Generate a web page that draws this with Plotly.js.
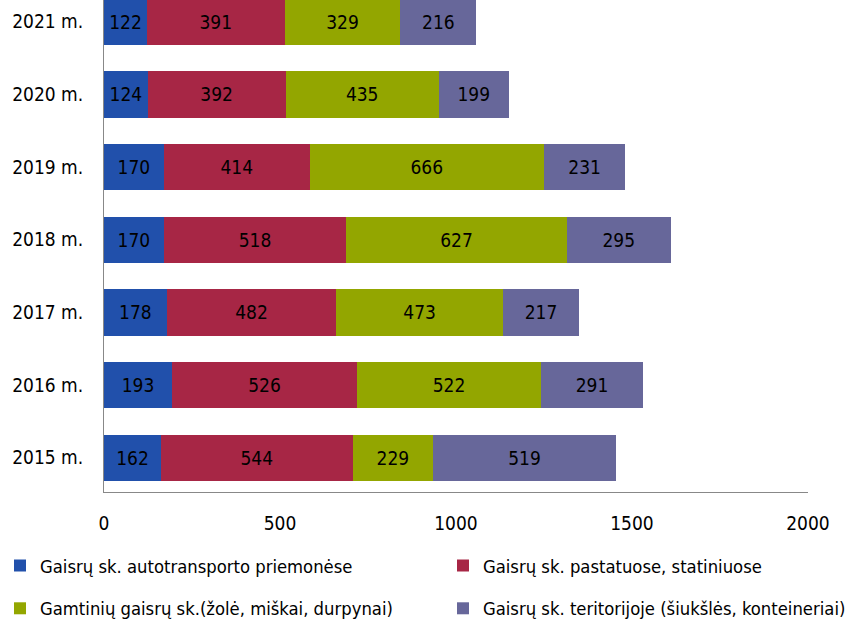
<!DOCTYPE html>
<html>
<head>
<meta charset="utf-8">
<script src="https://cdn.plot.ly/plotly-3.0.1.min.js"></script>
<style>
  html, body { margin: 0; padding: 0; background: #fff; }
  #chart { width: 854px; height: 623px; }
</style>
</head>
<body>
<div id="chart"></div>
<script>
// years, bottom to top
const years = ["2015 m.", "2016 m.", "2017 m.", "2018 m.", "2019 m.", "2020 m.", "2021 m."];

const vehicleFires = [162, 193, 178, 170, 170, 124, 122];
const buildingFires = [544, 526, 482, 518, 414, 392, 391];
const natureFires = [229, 522, 473, 627, 666, 435, 329];
const territoryFires = [519, 291, 217, 295, 231, 199, 216];

const seriesNames = [
  "Gaisrų sk. autotransporto priemonėse",
  "Gaisrų sk. pastatuose, statiniuose",
  "Gamtinių gaisrų sk.(žolė, miškai, durpynai)",
  "Gaisrų sk. teritorijoje (šiukšlės, konteineriai)"
];

const seriesColors = ["#2150ab", "#a72645", "#93a600", "#67679a"];
// left legend column gets series 1 and 3, right column gets 2 and 4
const legendIds = ["legend", "legend2", "legend", "legend2"];

const fontFamily = "'DejaVu Sans Condensed', 'DejaVu Sans', sans-serif";

function makeTrace(values, i) {
  return {
    type: "bar",
    orientation: "h",
    name: seriesNames[i],
    legend: legendIds[i],
    legendgroup: "g" + i,
    y: years,
    x: values,
    text: values.map(String),
    textposition: "inside",
    insidetextanchor: "middle",
    textangle: 0,
    constraintext: "none",
    textfont: { family: fontFamily, size: 19, color: "#000" },
    marker: { color: seriesColors[i], line: { width: 0 } },
    hoverinfo: "x+name"
  };
}

const data = [vehicleFires, buildingFires, natureFires, territoryFires].map(makeTrace);

const legendBase = {
  orientation: "v",
  xanchor: "left",
  y: -0.112,
  yanchor: "top",
  traceorder: "grouped",
  tracegroupgap: 16,
  itemwidth: 30,
  bgcolor: "rgba(0,0,0,0)",
  font: { family: fontFamily, size: 18.3, color: "#000" }
};

const layout = {
  width: 854,
  height: 623,
  margin: { l: 104, r: 46, t: 0, b: 131, autoexpand: false },
  barmode: "stack",
  bargap: 0.36,
  paper_bgcolor: "#fff",
  plot_bgcolor: "#fff",
  font: { family: fontFamily, size: 18, color: "#000" },
  xaxis: {
    range: [0, 2000],
    tickvals: [0, 500, 1000, 1500, 2000],
    showgrid: false,
    zeroline: false,
    showline: true,
    linecolor: "#888",
    linewidth: 1,
    ticks: "",
    automargin: false,
    ticklabelstandoff: 14,
    tickfont: { family: fontFamily, size: 19 }
  },
  yaxis: {
    range: [-0.47, 6.3],
    showgrid: false,
    zeroline: false,
    showline: true,
    linecolor: "#888",
    linewidth: 1,
    ticks: "",
    automargin: false,
    ticklabelstandoff: 16,
    tickfont: { family: fontFamily, size: 19 }
  },
  showlegend: true,
  legend: Object.assign({}, legendBase, { x: -0.1477 }),
  legend2: Object.assign({}, legendBase, { x: 0.4815 })
};

Plotly.newPlot("chart", data, layout, { displayModeBar: false, responsive: false });
</script>
</body>
</html>
